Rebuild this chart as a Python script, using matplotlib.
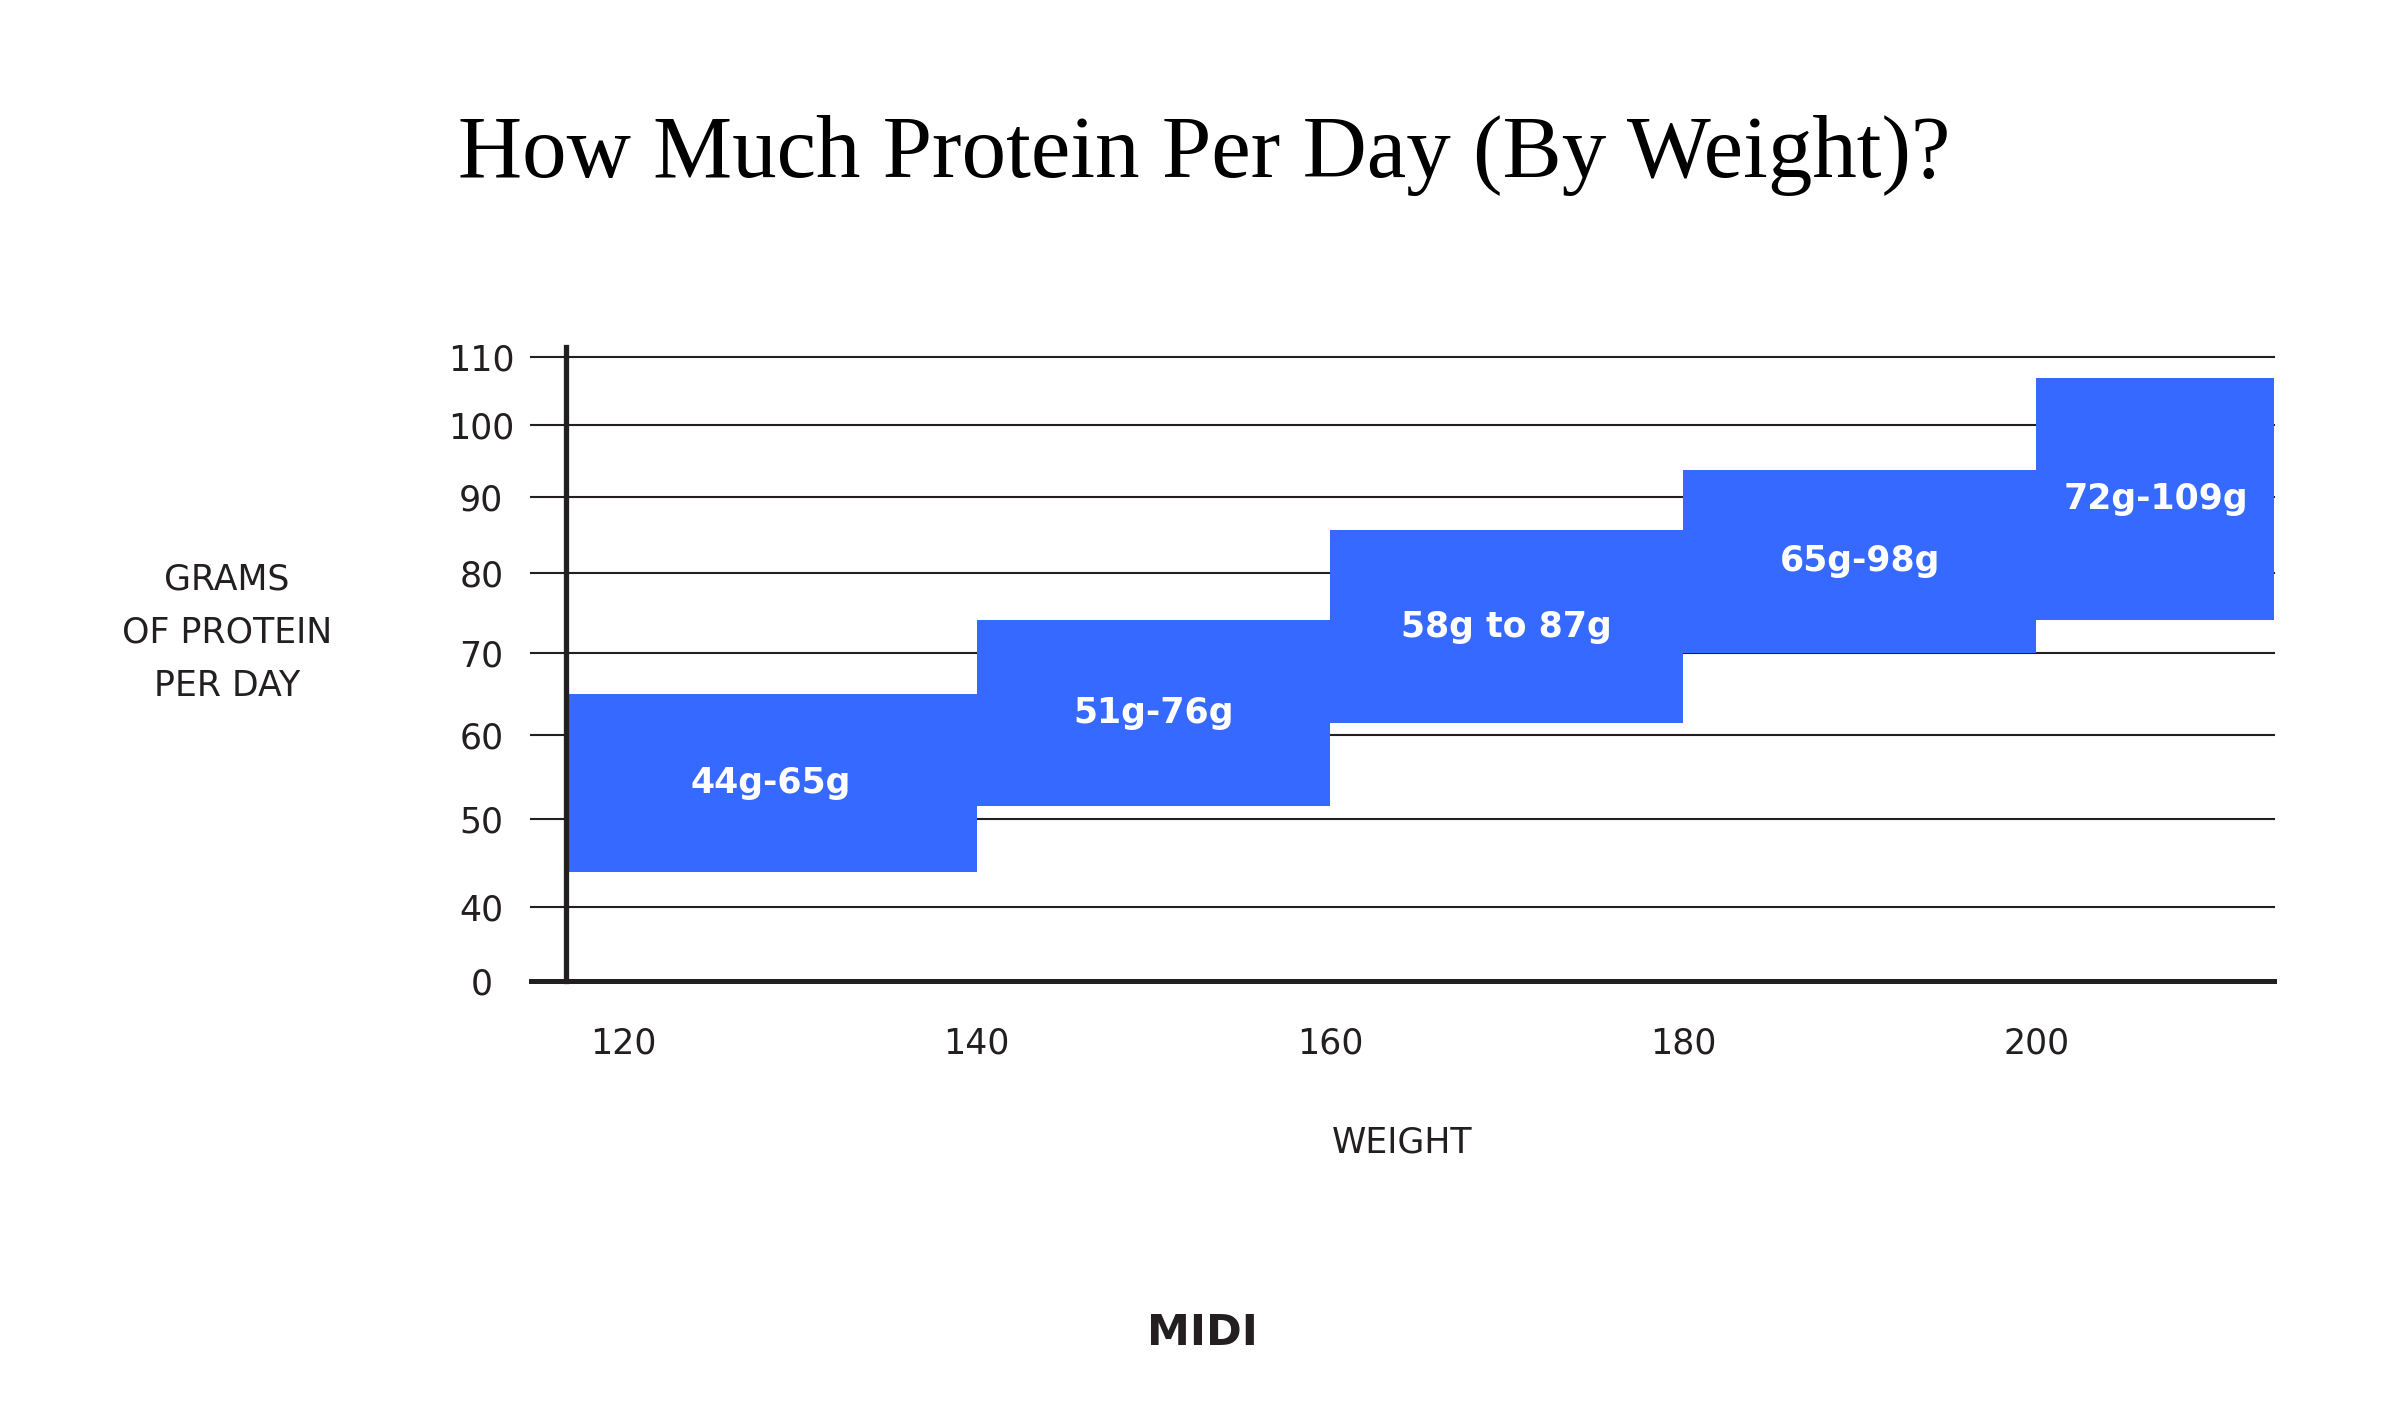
import numpy as np
import matplotlib.pyplot as plt

# weight bins (lbs) and protein range drawn for each bin (g/day)
weights = [120, 140, 160, 180, 200]
bin_left = [116.7, 140, 160, 180, 200]
bin_right = [140, 160, 180, 200, 213.5]
protein_low = [44, 51.6, 61.5, 70, 74.1]
protein_high = [65, 74.1, 85.6, 93.7, 106.9]
bar_labels = ['44g-65g', '51g-76g', '58g to 87g', '65g-98g', '72g-109g']
y_ticks = [0, 40, 50, 60, 70, 80, 90, 100, 110]

# the original y axis is hand drawn: 0 squeezed in, steps get shorter going up
y_knots = [0, 40, 50, 60, 70, 80, 90, 100, 110, 120]
y_steps = [0, 73.7, 161.8, 245.5, 328, 407.8, 484.1, 556.1, 623.8, 691.5]

def fwd(v):
    return np.interp(v, y_knots, y_steps)

def inv(p):
    return np.interp(p, y_steps, y_knots)

ink = '#231f20'
blue = '#3669ff'

plt.rcParams['font.family'] = ['DejaVu Sans']

fig = plt.figure(figsize=(24.08, 14.14), dpi=100)
W, H = 2408, 1414
ax = fig.add_axes([566 / W, 1 - 980.7 / H, (2274 - 566) / W, (980.7 - 346.5) / H])
ax.set_yscale('function', functions=(fwd, inv))
ax.set_xlim(116.74, 213.45)
ax.set_ylim(0, 111.54)

for s in ax.spines.values():
    s.set_visible(False)

# grid lines, running a bit past the axis on the left
stub = -35 / (2274 - 566)
for v in y_ticks[1:]:
    ax.axhline(v, xmin=stub, xmax=1, color=ink, lw=1.5, clip_on=False, zorder=1)

widths = np.array(bin_right) - np.array(bin_left)
heights = np.array(protein_high) - np.array(protein_low)
ax.bar(bin_left, heights, width=widths, bottom=protein_low, align='edge',
       color=blue, linewidth=0, zorder=2)

for l, r, lo, hi, txt in zip(bin_left, bin_right, protein_low, protein_high, bar_labels):
    ym = inv((fwd(lo) + fwd(hi)) / 2)
    ax.text((l + r) / 2, ym, txt, ha='center', va='center', color='white',
            fontsize=25, fontweight='bold', zorder=4)

# heavy axis lines
ax.axhline(0, xmin=stub, xmax=1, color=ink, lw=3.6, clip_on=False, zorder=3)
ax.axvline(116.74, ymin=0, ymax=1, color=ink, lw=3.8, clip_on=False, zorder=3)

ax.set_yticks(y_ticks)
ax.set_yticklabels([str(v) for v in y_ticks])
ax.tick_params(axis='y', length=0, pad=61, labelsize=25, labelcolor=ink)
for lbl in ax.get_yticklabels():
    lbl.set_ha('center')
ax.minorticks_off()

ax.set_xticks(weights)
ax.set_xticklabels([str(w) for w in weights])
ax.tick_params(axis='x', length=0, pad=33, labelsize=25, labelcolor=ink)

fig.text(0.5, 1 - 176.6 / H, 'How Much Protein Per Day (By Weight)?',
         ha='center', va='baseline', family='Liberation Serif', fontsize=64, color='black')
fig.text(227 / W, 1 - 632.7 / H, 'GRAMS\nOF PROTEIN\nPER DAY', ha='center', va='center',
         multialignment='center', fontsize=25, color=ink, linespacing=1.7)
fig.text(1402 / W, 1 - 1142.6 / H, 'WEIGHT', ha='center', va='center', fontsize=25, color=ink)
fig.text(1202 / W, 1 - 1333 / H, 'MIDI', ha='center', va='center', fontsize=31,
         fontweight='bold', color=ink)

fig.savefig('out.png', dpi=100, facecolor='white')
